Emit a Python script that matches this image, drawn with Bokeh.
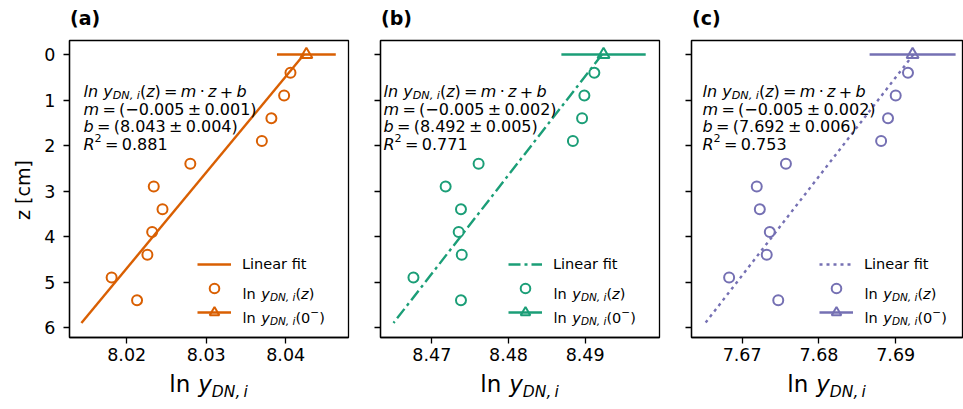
from bokeh.plotting import figure
from bokeh.models import Range1d, FixedTicker, Label, Legend, LegendItem, Div
from bokeh.layouts import row, column
from bokeh.embed import file_html
from bokeh.resources import INLINE

# ---------------- data ----------------
panel_tags = ["(a)", "(b)", "(c)"]
z_depth = [0.4, 0.9, 1.4, 1.9, 2.4, 2.9, 3.4, 3.9, 4.4, 4.9, 5.4]
lny_a = [8.0406, 8.0398, 8.0382, 8.0370, 8.0280, 8.0234, 8.0245, 8.0232, 8.0226, 8.0181, 8.0213]
lny_b = [8.4912, 8.4899, 8.4896, 8.4884, 8.4761, 8.4718, 8.4738, 8.4735, 8.4739, 8.4676, 8.4738]
lny_c = [7.6916, 7.6900, 7.6890, 7.6881, 7.6757, 7.6719, 7.6723, 7.6736, 7.6732, 7.6683, 7.6747]
fit_z = [0.0, 5.9]
fit_a = [8.0423, 8.0143]
fit_b = [8.4922, 8.4650]
fit_c = [7.6923, 7.6652]
surface_z = [0.0]
surface_a = [8.0426]
surface_b = [8.4924]
surface_c = [7.6922]
surface_err_a = [0.0037]
surface_err_b = [0.0055]
surface_err_c = [0.0056]
slope_text = ["(\u22120.005", "(\u22120.005", "(\u22120.005"]
slope_err_text = ["0.001)", "0.002)", "0.002)"]
intercept_text = ["(8.043", "(8.492", "(7.692"]
intercept_err_text = ["0.004)", "0.005)", "0.006)"]
r2_text = ["0.881", "0.771", "0.753"]
xticks_a = [8.02, 8.03, 8.04]
xticks_b = [8.47, 8.48, 8.49]
xticks_c = [7.67, 7.68, 7.69]
zticks = [0, 1, 2, 3, 4, 5, 6]
xlim_a = (8.0128, 8.0479)
xlim_b = (8.4633, 8.4997)
xlim_c = (7.6634, 7.6987)
zlim = (6.22, -0.31)
y_label = "z [cm]"

# ---------------- styles ----------------
FONT = "DejaVu Sans"
colors = ["#d95f02", "#1b9e77", "#7570b3"]
dashes = ["solid", "12 4 3 4", "3 4"]
YLAB_W = 34                 # div at the far left holding the rotated z label
fig_w = [362 - YLAB_W, 309, 292]
b_left = [69 - YLAB_W, 18, 20]
b_right = [14, 12, 1]
TAG_H = 32          # div above each plot holding the panel tag
FIG_H = 340         # plot height (frame from y=40 to y=337 on the page)
DIV_H = 409 - TAG_H - FIG_H
B_TOP = 8
B_BOT = 35
text_x = [14, 3, 11]

# DejaVu Sans advance widths (em)
W = {' ': .318, '(': .390, ')': .390, '+': .838, '=': .838, '\u2212': .838, '\u00b1': .838,
     ',': .318, '.': .318, 'D': .770, 'N': .748, 'R': .695, 'b': .635, 'i': .278, 'l': .278,
     'm': .974, 'n': .634, 'y': .592, 'z': .525, '\u00b7': .318}
for d in "0123456789":
    W[d] = .636


def tw(s, size):
    return sum(W.get(ch, .6) for ch in s) * size


def rich(p, x0, y0, parts, color="black"):
    """parts: (text, size, style, dy) tuples or numeric gaps in px"""
    x = x0
    for part in parts:
        if isinstance(part, (int, float)):
            x += part
            continue
        txt, size, style, dy = part
        p.add_layout(Label(x=x, y=y0 + dy, x_units="screen", y_units="screen", text=txt,
                           text_font=FONT, text_font_size=f"{size}px", text_font_style=style,
                           text_baseline="alphabetic", text_align="left", text_color=color))
        x += tw(txt, size)


panels = [
    (lny_a, fit_a, surface_a, surface_err_a, xticks_a, xlim_a),
    (lny_b, fit_b, surface_b, surface_err_b, xticks_b, xlim_b),
    (lny_c, fit_c, surface_c, surface_err_c, xticks_c, xlim_c),
]

cols = []
ylab_html = (f'<div style="position:relative;width:{YLAB_W}px;height:409px">'
             f'<div style="position:absolute;left:23px;top:190px;transform:translate(-50%,-50%) rotate(-90deg);'
             f'white-space:nowrap;font-family:\'{FONT}\';font-size:19px;line-height:22px;color:black">'
             f'{y_label}</div></div>')
cols.append(Div(text=ylab_html, width=YLAB_W, height=409, margin=0,
                styles={"font-family": FONT, "overflow": "visible"}))

for i, (lny, fit, surf, serr, xt, xl) in enumerate(panels):
    c = colors[i]
    p = figure(width=fig_w[i], height=FIG_H, x_range=Range1d(*xl), y_range=Range1d(*zlim),
               output_backend="svg", toolbar_location=None,
               min_border_left=b_left[i], min_border_right=b_right[i],
               min_border_top=B_TOP, min_border_bottom=B_BOT)
    p.grid.visible = False
    p.outline_line_color = "black"
    p.outline_line_width = 1.3
    p.background_fill_color = "white"
    p.border_fill_color = "white"

    fit_r = p.line(fit, fit_z, line_color=c, line_width=2.4, line_dash=dashes[i])
    circ_r = p.scatter(lny, z_depth, marker="circle", size=10, fill_color=None,
                       line_color=c, line_width=2)
    seg_r = p.segment(x0=[s - e for s, e in zip(surf, serr)], x1=[s + e for s, e in zip(surf, serr)],
                      y0=surface_z, y1=surface_z, line_color=c, line_width=2.5)
    tri_r = p.scatter(surf, surface_z, marker="triangle", size=12, fill_color=None,
                      line_color=c, line_width=2)

    # axes
    p.xaxis.ticker = FixedTicker(ticks=xt)
    p.xaxis.major_label_overrides = {t: f"{t:.2f}" for t in xt}
    p.yaxis.ticker = FixedTicker(ticks=zticks)
    for ax in (p.xaxis[0], p.yaxis[0]):
        ax.minor_tick_line_color = None
        ax.major_tick_in = 0
        ax.major_tick_out = 6
        ax.major_tick_line_width = 1.3
        ax.axis_line_width = 1.3
        ax.axis_line_color = "black"
        ax.major_tick_line_color = "black"
        ax.major_label_text_font = FONT
        ax.major_label_text_font_size = "17.5px"
        ax.major_label_text_color = "black"
    p.xaxis.major_label_standoff = 4
    if i == 0:
        p.yaxis.major_label_standoff = 8
    else:
        p.yaxis.major_label_overrides = {t: "" for t in zticks}
        p.yaxis.major_label_standoff = 0

    # legend
    legend = Legend(items=[LegendItem(label="Linear fit", renderers=[fit_r]),
                           LegendItem(label=" ", renderers=[circ_r]),
                           LegendItem(label=" ", renderers=[seg_r, tri_r])],
                    location=(128, 13), glyph_width=34, glyph_height=24, label_height=24,
                    spacing=0, padding=0, margin=0, label_standoff=11,
                    border_line_color=None, background_fill_alpha=0,
                    label_text_font=FONT, label_text_font_size="14.5px",
                    label_text_color="black")
    p.add_layout(legend)

    fs_l, fs_ls = 14.5, 10.5
    lx = 128 + 34 + 11
    sp = tw(" ", fs_l) + 1
    rich(p, lx, 49 - 5.2, [("ln", fs_l, "normal", 0), sp, ("y", fs_l, "italic", 0),
                           ("DN, i", fs_ls, "italic", -3), ("(", fs_l, "normal", 0),
                           ("z", fs_l, "italic", 0), (")", fs_l, "normal", 0)])
    rich(p, lx, 25 - 5.2, [("ln", fs_l, "normal", 0), sp, ("y", fs_l, "italic", 0),
                           ("DN, i", fs_ls, "italic", -3), ("(0", fs_l, "normal", 0),
                           ("\u2212", fs_ls, "normal", 5.5), (")", fs_l, "normal", 0)])

    # fit annotation (frame bottom is at 337 px from top of the page)
    fs, fss, g = 16, 11.2, 3.3
    tx = text_x[i]
    rich(p, tx, 337 - 91, [("ln y", fs, "italic", 0), ("DN, i", fss, "italic", -3.5),
                           ("(", fs, "normal", 0), ("z", fs, "italic", 0), (")", fs, "normal", 0), g,
                           ("=", fs, "normal", 0), g, ("m", fs, "italic", 0), g,
                           ("\u00b7", fs, "normal", 0), g, ("z", fs, "italic", 0), g,
                           ("+", fs, "normal", 0), g, ("b", fs, "italic", 0)])
    rich(p, tx, 337 - 108.5, [("m", fs, "italic", 0), g, ("=", fs, "normal", 0), g,
                              (slope_text[i], fs, "normal", 0), g, ("\u00b1", fs, "normal", 0), g,
                              (slope_err_text[i], fs, "normal", 0)])
    rich(p, tx, 337 - 126, [("b", fs, "italic", 0), g, ("=", fs, "normal", 0), g,
                            (intercept_text[i], fs, "normal", 0), g, ("\u00b1", fs, "normal", 0), g,
                            (intercept_err_text[i], fs, "normal", 0)])
    rich(p, tx, 337 - 143.5, [("R", fs, "italic", 0), ("2", fss, "normal", 6.5), g,
                              ("=", fs, "normal", 0), g, (r2_text[i], fs, "normal", 0)])

    # panel tag above the frame
    tag_html = (f'<div style="padding-left:{b_left[i] + 1}px;margin-top:7px;font-family:\'{FONT}\';'
                f'font-size:19px;font-weight:bold;line-height:22px;color:black;white-space:nowrap">'
                f'{panel_tags[i]}</div>')
    tag = Div(text=tag_html, width=fig_w[i], height=TAG_H, margin=0,
              styles={"font-family": FONT, "overflow": "visible"})

    # x axis label with subscript, centred under the frame
    shift = (b_left[i] - b_right[i]) / 2
    html = (f'<div style="width:{fig_w[i]}px;text-align:center;position:relative;left:{shift}px;'
            f'font-family:\'{FONT}\';font-size:23px;line-height:26px;margin-top:-1px;color:black;'
            f'white-space:nowrap">ln<span style="margin-left:8px;font-style:italic">y</span>'
            f'<span style="font-style:italic;font-size:15.5px;position:relative;top:5px">'
            f'DN,&#8201;i</span></div>')
    d = Div(text=html, width=fig_w[i], height=DIV_H, margin=0,
            styles={"font-family": FONT, "overflow": "visible"})
    cols.append(column(tag, p, d, spacing=0))

layout = row(*cols, spacing=0)
open("out.html", "w").write(file_html(layout, INLINE))
